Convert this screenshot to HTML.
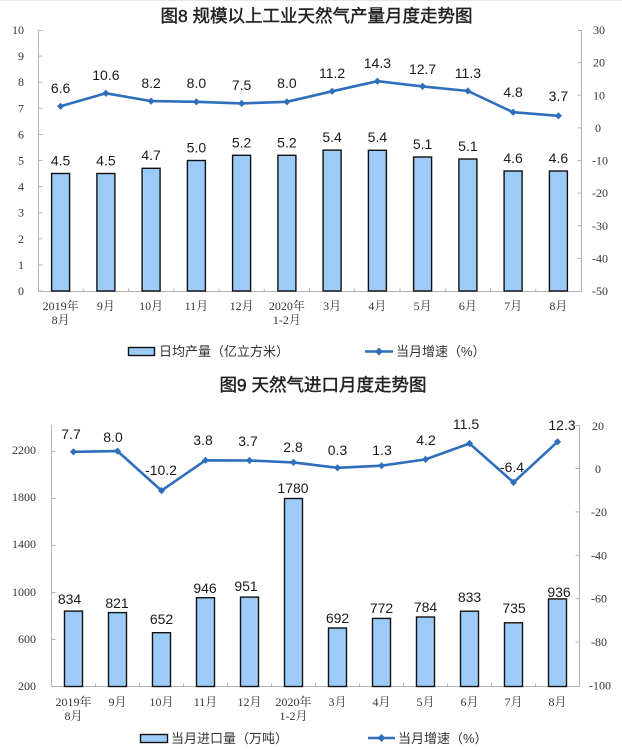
<!DOCTYPE html>
<html><head><meta charset="utf-8"><style>
html,body{margin:0;padding:0;background:#fff;}
svg{display:block;}
.t{font-family:"Liberation Sans","Noto Sans CJK SC",sans-serif;font-size:17.5px;font-weight:normal;fill:#222;stroke:#222;stroke-width:0.45px;}
.ax{font-family:"Liberation Serif","Noto Serif CJK SC",serif;font-size:12px;fill:#333;}
.cat{font-family:"Liberation Serif","Noto Serif CJK SC",serif;font-size:12px;fill:#333;text-anchor:middle;}
.dl{font-family:"Liberation Sans",sans-serif;font-size:14px;fill:#1a1a1a;text-anchor:middle;}
.lg{font-family:"Liberation Sans","Noto Sans CJK SC",sans-serif;font-size:13px;fill:#333;}
.bar{fill:#9dcbf7;stroke:#111;stroke-width:1.4;}
.axl{stroke:#b3b3b3;stroke-width:1;fill:none;}
.ln{fill:none;stroke:#2f6eba;stroke-width:2.6;stroke-linejoin:round;}
</style></head><body>
<svg width="622" height="749" viewBox="0 0 622 749" xmlns="http://www.w3.org/2000/svg">
<defs>
<marker id="dm" viewBox="-5 -5 10 10" markerWidth="8" markerHeight="8" refX="0" refY="0" markerUnits="userSpaceOnUse">
<polygon points="0,-4.5 4.5,0 0,4.5 -4.5,0" fill="#2f6eba"/>
</marker>
</defs>
<rect x="0" y="0" width="622" height="749" fill="#fff"/>
<line x1="0" y1="0.5" x2="622" y2="0.5" stroke="#e6e6e6"/>

<!-- ===== Chart 1 ===== -->
<text class="t" x="316.5" y="22" text-anchor="middle">图8 规模以上工业天然气产量月度走势图</text>

<path class="axl" d="M38.5,30 V291.5 H581.5 V30"/>
<path class="axl" d="M38.5,291 h4 M38.5,264.9 h4 M38.5,238.8 h4 M38.5,212.7 h4 M38.5,186.6 h4 M38.5,160.5 h4 M38.5,134.4 h4 M38.5,108.3 h4 M38.5,82.2 h4 M38.5,56.1 h4 M38.5,30.5 h4"/>
<path class="axl" d="M581.5,30.5 h-4 M581.5,62.6 h-4 M581.5,95.25 h-4 M581.5,127.9 h-4 M581.5,160.5 h-4 M581.5,193.1 h-4 M581.5,225.8 h-4 M581.5,258.4 h-4"/>
<path class="axl" d="M83.25,291.5 v-3 M128.5,291.5 v-3 M173.75,291.5 v-3 M219,291.5 v-3 M264.25,291.5 v-3 M309.5,291.5 v-3 M354.75,291.5 v-3 M400,291.5 v-3 M445.25,291.5 v-3 M490.5,291.5 v-3 M535.75,291.5 v-3"/>

<g class="ax" text-anchor="end">
<text x="24" y="295">0</text><text x="24" y="268.9">1</text><text x="24" y="242.8">2</text><text x="24" y="216.7">3</text><text x="24" y="190.6">4</text><text x="24" y="164.5">5</text><text x="24" y="138.4">6</text><text x="24" y="112.3">7</text><text x="24" y="86.2">8</text><text x="24" y="60.1">9</text><text x="24" y="34">10</text>
</g>
<g class="ax" text-anchor="start">
<text x="593" y="34">30</text><text x="593" y="66.6">20</text><text x="593" y="99.25">10</text><text x="595" y="131.9">0</text><text x="592" y="164.5">-10</text><text x="592" y="197.1">-20</text><text x="592" y="229.8">-30</text><text x="592" y="262.4">-40</text><text x="592" y="295">-50</text>
</g>

<rect class="bar" x="51.6" y="173.5" width="18" height="117.5"/>
<rect class="bar" x="96.9" y="173.5" width="18" height="117.5"/>
<rect class="bar" x="142.1" y="168.3" width="18" height="122.7"/>
<rect class="bar" x="187.4" y="160.5" width="18" height="130.5"/>
<rect class="bar" x="232.6" y="155.3" width="18" height="135.7"/>
<rect class="bar" x="277.9" y="155.3" width="18" height="135.7"/>
<rect class="bar" x="323.1" y="150.1" width="18" height="140.9"/>
<rect class="bar" x="368.4" y="150.3" width="18" height="140.7"/>
<rect class="bar" x="413.6" y="157" width="18" height="134"/>
<rect class="bar" x="458.9" y="159" width="18" height="132"/>
<rect class="bar" x="504.1" y="171" width="18" height="120"/>
<rect class="bar" x="549.4" y="171" width="18" height="120"/>

<g class="dl">
<text x="60.6" y="165.5">4.5</text><text x="105.9" y="165.5">4.5</text><text x="151.1" y="160">4.7</text><text x="196.4" y="152.5">5.0</text><text x="241.6" y="147.3">5.2</text><text x="286.9" y="147.3">5.2</text><text x="332.1" y="142">5.4</text><text x="377.4" y="142">5.4</text><text x="422.6" y="149">5.1</text><text x="467.9" y="151">5.1</text><text x="513.1" y="163">4.6</text><text x="558.4" y="163">4.6</text>
</g>

<polyline class="ln" marker-start="url(#dm)" marker-mid="url(#dm)" marker-end="url(#dm)" points="60.6,106.3 105.9,93.3 151.1,101.1 196.4,101.8 241.6,103.4 286.9,101.8 332.1,91.3 377.4,81.2 422.6,86.4 467.9,91.0 513.1,112.2 558.4,115.8"/>
<g class="dl">
<text x="60.6" y="93">6.6</text><text x="105.9" y="80">10.6</text><text x="151.1" y="88">8.2</text><text x="196.4" y="88">8.0</text><text x="241.6" y="90">7.5</text><text x="286.9" y="88">8.0</text><text x="332.1" y="78">11.2</text><text x="377.4" y="68">14.3</text><text x="422.6" y="74">12.7</text><text x="467.9" y="78">11.3</text><text x="513.1" y="97">4.8</text><text x="558.4" y="101">3.7</text>
</g>

<g class="cat">
<text x="60.6" y="310">2019年</text><text x="60.6" y="324">8月</text>
<text x="105.9" y="310">9月</text><text x="151.1" y="310">10月</text><text x="196.4" y="310">11月</text><text x="241.6" y="310">12月</text>
<text x="286.9" y="310">2020年</text><text x="286.9" y="324">1-2月</text>
<text x="332.1" y="310">3月</text><text x="377.4" y="310">4月</text><text x="422.6" y="310">5月</text><text x="467.9" y="310">6月</text><text x="513.1" y="310">7月</text><text x="558.4" y="310">8月</text>
</g>

<rect class="bar" x="128.5" y="347.5" width="26" height="8"/>
<text class="lg" x="159" y="356">日均产量（亿立方米）</text>
<line x1="365" y1="351.5" x2="393" y2="351.5" stroke="#2f6eba" stroke-width="2.6"/>
<polygon points="379,347.5 383,351.5 379,355.5 375,351.5" fill="#2f6eba"/>
<text class="lg" x="396" y="356">当月增速（%）</text>

<!-- ===== Chart 2 ===== -->
<text class="t" x="323" y="391" text-anchor="middle">图9 天然气进口月度走势图</text>

<path class="axl" d="M51.5,425 V686.5 H579.5 V425"/>
<path class="axl" d="M51.5,639.5 h4 M51.5,592.5 h4 M51.5,545.5 h4 M51.5,498.5 h4 M51.5,451.5 h4"/>
<path class="axl" d="M579.5,425.5 h-4 M579.5,468.5 h-4 M579.5,511.9 h-4 M579.5,555.3 h-4 M579.5,598.7 h-4 M579.5,642.1 h-4"/>
<path class="axl" d="M95.5,686.5 v-3 M139.5,686.5 v-3 M183.5,686.5 v-3 M227.5,686.5 v-3 M271.5,686.5 v-3 M315.5,686.5 v-3 M359.5,686.5 v-3 M403.5,686.5 v-3 M447.5,686.5 v-3 M491.5,686.5 v-3 M535.5,686.5 v-3"/>

<g class="ax" text-anchor="end">
<text x="36" y="690">200</text><text x="36" y="643">600</text><text x="36" y="596">1000</text><text x="36" y="548">1400</text><text x="36" y="501">1800</text><text x="36" y="454">2200</text>
</g>
<g class="ax" text-anchor="start">
<text x="592" y="430">20</text><text x="595" y="473">0</text><text x="591" y="516">-20</text><text x="591" y="559.3">-40</text><text x="591" y="602.7">-60</text><text x="591" y="646.1">-80</text><text x="589" y="689.5">-100</text>
</g>

<rect class="bar" x="64.5" y="611.1" width="18" height="75.4"/>
<rect class="bar" x="108.5" y="612.6" width="18" height="73.9"/>
<rect class="bar" x="152.5" y="632.7" width="18" height="53.8"/>
<rect class="bar" x="196.5" y="597.7" width="18" height="88.8"/>
<rect class="bar" x="240.5" y="597.1" width="18" height="89.4"/>
<rect class="bar" x="284.5" y="498.5" width="18" height="188"/>
<rect class="bar" x="328.5" y="628" width="18" height="58.5"/>
<rect class="bar" x="372.5" y="618.4" width="18" height="68.1"/>
<rect class="bar" x="416.5" y="617" width="18" height="69.5"/>
<rect class="bar" x="460.5" y="611.2" width="18" height="75.3"/>
<rect class="bar" x="504.5" y="622.8" width="18" height="63.7"/>
<rect class="bar" x="548.5" y="598.9" width="18" height="87.6"/>

<g class="dl">
<text x="69.5" y="604">834</text><text x="117" y="608">821</text><text x="161.5" y="624">652</text><text x="205" y="593">946</text><text x="246" y="591">951</text><text x="293" y="493">1780</text><text x="337.5" y="623">692</text><text x="381.5" y="613">772</text><text x="425.5" y="612">784</text><text x="469.5" y="602">833</text><text x="514" y="613">735</text><text x="559" y="597">936</text>
</g>

<polyline class="ln" marker-start="url(#dm)" marker-mid="url(#dm)" marker-end="url(#dm)" points="73.5,451.8 117.5,451.1 161.5,490.6 205.5,460.3 249.5,460.5 293.5,462.4 337.5,467.8 381.5,465.7 425.5,459.4 469.5,443.5 513.5,482.4 557.5,441.8"/>
<g class="dl">
<text x="71" y="439">7.7</text><text x="113" y="442">8.0</text><text x="161" y="475">-10.2</text><text x="203" y="445">3.8</text><text x="248" y="446">3.7</text><text x="293" y="452">2.8</text><text x="337.5" y="455">0.3</text><text x="382" y="455">1.3</text><text x="426" y="445">4.2</text><text x="466" y="429">11.5</text><text x="512" y="472">-6.4</text><text x="562" y="430">12.3</text>
</g>

<g class="cat">
<text x="73.5" y="706">2019年</text><text x="73.5" y="720">8月</text>
<text x="117.5" y="706">9月</text><text x="161.5" y="706">10月</text><text x="205.5" y="706">11月</text><text x="249.5" y="706">12月</text>
<text x="293.5" y="706">2020年</text><text x="293.5" y="720">1-2月</text>
<text x="337.5" y="706">3月</text><text x="381.5" y="706">4月</text><text x="425.5" y="706">5月</text><text x="469.5" y="706">6月</text><text x="513.5" y="706">7月</text><text x="557.5" y="706">8月</text>
</g>

<rect class="bar" x="140.5" y="734.5" width="27" height="8"/>
<text class="lg" x="171" y="743">当月进口量（万吨）</text>
<line x1="368" y1="738" x2="395" y2="738" stroke="#2f6eba" stroke-width="2.6"/>
<polygon points="381.5,734 385.5,738 381.5,742 377.5,738" fill="#2f6eba"/>
<text class="lg" x="398" y="743">当月增速（%）</text>
</svg>
</body></html>
